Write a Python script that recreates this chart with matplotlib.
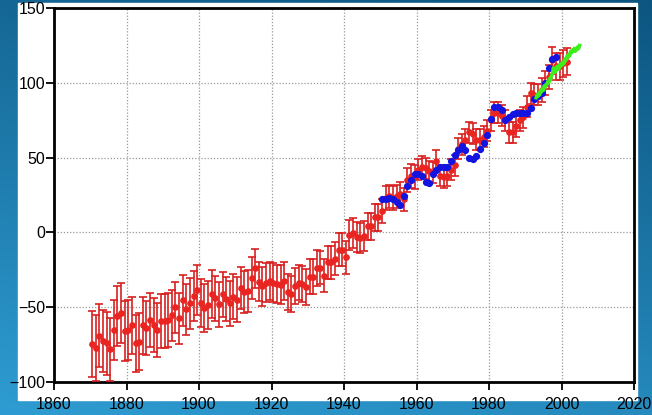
import numpy as np
import matplotlib
matplotlib.use("Agg")
import matplotlib.pyplot as plt
from matplotlib.patches import Rectangle

plt.rcParams['font.family'] = ['Liberation Sans', 'DejaVu Sans']

# reconstructed sea level (red), annual, with error bars
red_years = np.arange(1870, 2002)
red_vals = [
    -74.6, -77.5, -69, -72.6, -74, -78, -65, -56, -54, -66,
    -65, -62, -74, -73, -62, -64, -58.5, -62, -65, -59,
    -59, -58.5, -55.5, -50, -57.5, -45.5, -51.5, -47.5, -42.5, -38.5,
    -47, -50.5, -48.5, -41, -44, -48, -41.5, -44.5, -47.5, -43,
    -45, -37, -40, -39, -30.5, -24, -33, -36, -33.5, -32.5,
    -33.5, -34.5, -35, -32.5, -40, -41, -36, -33.5, -34.5, -36.5,
    -29.5, -29.5, -24, -23.5, -29, -20, -20, -17.5, -11.5, -11.5,
    -16.5, -1.5, -0.5, -3, -4, -2.5, 4, 4, 10, 10,
    14, 23, 24, 23, 24, 26, 22, 35, 38, 37,
    42, 44, 43, 41, 40, 48, 38, 37, 38, 42,
    45, 56, 59, 62, 67, 66, 62, 62, 64, 68,
    75, 80, 80, 78, 75, 67, 67, 71, 75, 77,
    84, 93, 92, 92, 95, 100, 104, 115, 111, 111,
    113, 114,
]
red_err = [
    22, 22, 21, 21, 21, 21, 20, 20, 20, 20,
    20, 19, 19, 19, 19, 18, 18, 18, 18, 18,
    18, 18, 17, 17, 17, 17, 17, 17, 17, 17,
    16, 16, 16, 16, 15, 15, 15, 15, 15, 15,
    15, 14, 14, 14, 14, 13, 13, 13, 13, 13,
    13, 13, 13, 13, 12, 12, 12, 12, 12, 12,
    12, 12, 12, 11, 11, 11, 11, 11, 11, 11,
    11, 10, 10, 10, 10, 10, 9, 9, 9, 9,
    8, 8, 8, 8, 8, 8, 8, 8, 8, 8,
    7, 7, 7, 7, 7, 7, 7, 7, 7, 7,
    7, 7, 7, 7, 7, 7, 7, 7, 7, 7,
    7, 7, 7, 7, 7, 7, 7, 7, 7, 7,
    7, 7, 7, 7, 8, 8, 8, 9, 9, 9,
    9, 9,
]

# tide gauge series (blue)
blue_years = np.arange(1950, 1999)
blue_vals = [
    22, 22, 23, 22, 20, 18, 24, 31, 35, 39,
    39, 38, 34, 33, 39, 42, 44, 44, 44, 48,
    52, 55, 58, 55, 50, 49, 51, 56, 60, 65,
    76, 84, 84, 82, 75, 77, 79, 80, 80, 80,
    80, 83, 89, 91, 93, 100, 110, 116, 117,
]

# satellite altimetry (green)
sat_t = [1993.0, 1993.25, 1993.5, 1993.75, 1994.0, 1994.25, 1994.5, 1994.75,
         1995.0, 1995.25, 1995.5, 1995.75, 1996.0, 1996.25, 1996.5, 1996.75,
         1997.0, 1997.25, 1997.5, 1997.75, 1998.0, 1998.25, 1998.5, 1998.75,
         1999.0, 1999.25, 1999.5, 1999.75, 2000.0, 2000.25, 2000.5, 2000.75,
         2001.0, 2001.25, 2001.5, 2001.75, 2002.0, 2002.25, 2002.5, 2002.75,
         2003.0, 2003.25, 2003.5, 2003.75, 2004.0, 2004.25, 2004.5, 2004.75, 2005.0]
sat_vals = [90, 92, 91, 93, 92, 95, 94, 96,
            95, 98, 97, 99, 99, 101, 100, 103,
            102, 105, 106, 110, 109, 107, 108, 111,
            110, 109, 112, 111, 113, 112, 114, 113,
            116, 115, 118, 117, 119, 118, 121, 120,
            122, 121, 123, 121, 123, 122, 124, 123, 125]

W, H = 652, 415
fig = plt.figure(figsize=(W / 100, H / 100), dpi=100)

# blue slide background
bg = fig.add_axes([0, 0, 1, 1], zorder=-10)
gy, gx = np.mgrid[0:1:200j, 0:1:200j]
t = np.clip(0.75 * gy + 0.25 * (1 - gx), 0, 1)
c0 = np.array([0x0c, 0x55, 0x80]) / 255
c1 = np.array([0x2e, 0x9c, 0xd2]) / 255
img = c0[None, None, :] * (1 - t[..., None]) + c1[None, None, :] * t[..., None]
bg.imshow(img, aspect='auto', extent=[0, 1, 0, 1], origin='upper')
bg.axis('off')

# white panel
fig.patches.append(Rectangle((18 / W, (H - 400) / H), 619 / W, 397 / H,
                             transform=fig.transFigure, color='white', zorder=-5))

ax = fig.add_axes([54 / W, (H - 382) / H, 580 / W, 374 / H])
ax.set_xlim(1860, 2020)
ax.set_ylim(-100, 150)
ax.set_xticks(np.arange(1860, 2021, 20))
ax.set_yticks(np.arange(-100, 151, 50))
ax.grid(True, color='#999999', linestyle=(0, (1, 1.5)), linewidth=0.9)
for s in ax.spines.values():
    s.set_linewidth(2)
ax.tick_params(direction='out', length=5.5, width=1.3, labelsize=11.5)
ax.tick_params(axis='x', pad=5)
ax.tick_params(axis='y', pad=1)

ax.errorbar(red_years + 0.5, red_vals, yerr=red_err, fmt='o', color='#ea2420',
            ecolor='#d82020', ms=3.8, elinewidth=1.2, capsize=2.8, capthick=1.2,
            zorder=3, clip_on=False)
ax.plot(blue_years + 0.5, blue_vals, 'o', color='#1414e0', ms=4.2, zorder=4)
ax.plot(sat_t, sat_vals, color='#3dee1c', lw=2.5, zorder=5)

fig.savefig('out.png', dpi=100)
